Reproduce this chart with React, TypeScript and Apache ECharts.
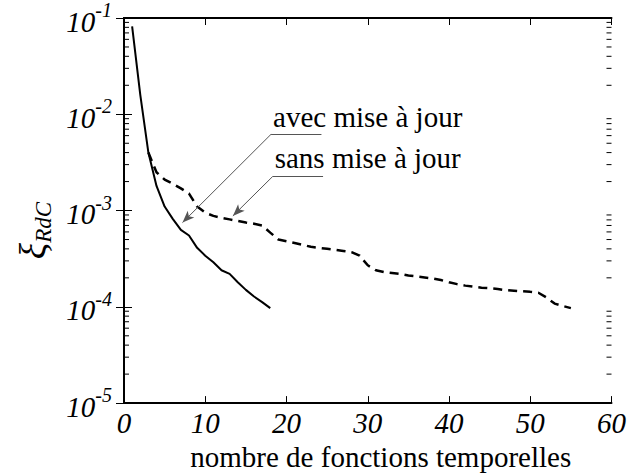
import React, { useEffect, useRef } from "react";
import * as echarts from "echarts";

// x positions (number of time functions)
const xAvec = [1, 2, 3, 4, 5, 6, 7, 8, 9, 10, 11, 12, 13, 14, 15, 16, 17, 18];
const yAvec = [
  0.082, 0.016, 0.004, 0.0018, 0.0011, 0.00082, 0.00063, 0.00055, 0.00041,
  0.00034, 0.00029, 0.00024, 0.00022, 0.00018, 0.00015, 0.000128, 0.000112,
  0.000097,
];

const xSans = [
  3, 4, 5, 6, 7, 8, 9, 10, 11, 12, 13, 14, 15, 16, 17, 18, 19, 20, 21, 22, 23,
  24, 25, 26, 27, 28, 29, 30, 31, 32, 33, 34, 35, 36, 37, 38, 39, 40, 41, 42,
  43, 44, 45, 46, 47, 48, 49, 50, 51, 52, 53, 54, 55,
];
const ySans = [
  0.004, 0.0025, 0.0021, 0.0019, 0.0017, 0.0015, 0.0011, 0.00095, 0.00088,
  0.00084, 0.00081, 0.00078, 0.00075, 0.00073, 0.0007, 0.00059, 0.0005,
  0.00048, 0.00046, 0.00044, 0.00042, 0.00041, 0.0004, 0.00039, 0.00038,
  0.00037, 0.00034, 0.00027, 0.00024, 0.00023, 0.000225, 0.00022, 0.000212,
  0.000207, 0.000202, 0.000197, 0.00019, 0.00018, 0.000172, 0.000166,
  0.000162, 0.000158, 0.000156, 0.000153, 0.000149, 0.000147, 0.000145,
  0.000143, 0.00014, 0.000125, 0.000108, 0.000102, 0.000097,
];

const decades = [-5, -4, -3, -2];
const minorMultipliers = [2, 3, 4, 5, 6, 7, 8, 9];

const labelAvec = "avec mise à jour";
const labelSans = "sans mise à jour";
const xName = "nombre de fonctions temporelles";

// annotation anchors (data space): start of the leader line and arrow tip
const avecStart = [18.1, 6.2e-3];
const avecEnd = [24.3, 6.2e-3];
const avecTip = [7.2, 7.5e-4];
const sansStart = [18.3, 2.26e-3];
const sansEnd = [24.5, 2.26e-3];
const sansTip = [13.4, 8.8e-4];

const FONT = "Liberation Serif";

export default function App() {
  const ref = useRef<HTMLDivElement>(null);
  useEffect(() => {
    if (!ref.current) return;
    const chart = echarts.init(ref.current, null, { renderer: "svg" });
    const minorVals: number[][] = [];
    decades.forEach((d) =>
      minorMultipliers.forEach((m) => minorVals.push([0, m * Math.pow(10, d)]))
    );
    const axisLine = { show: true, lineStyle: { color: "#000", width: 2 } };
    const tickStyle = { color: "#000", width: 1 };
    const annLabel = (text: string, dy: number) => ({
      show: true,
      formatter: text,
      position: "right",
      offset: [2, dy],
      distance: 0,
      fontFamily: FONT,
      fontSize: 29,
      color: "#000",
      align: "left",
    });
    const option: any = {
      animation: false,
      grid: { left: 124, right: 9, top: 15, bottom: 72, containLabel: false },
      xAxis: [
        {
          type: "value",
          min: 0,
          max: 60,
          interval: 10,
          position: "bottom",
          axisLine,
          axisTick: { show: true, inside: true, length: 7, lineStyle: tickStyle },
          axisLabel: {
            fontFamily: FONT,
            fontStyle: "italic",
            fontSize: 29,
            color: "#000",
            margin: 5,
          },
          splitLine: { show: false },
          name: xName,
          nameLocation: "middle",
          nameGap: 35,
          nameTextStyle: {
            fontFamily: FONT,
            fontSize: 29,
            color: "#000",
            padding: [0, 0, 0, 26],
          },
        },
        {
          type: "value",
          min: 0,
          max: 60,
          interval: 10,
          position: "top",
          axisLine,
          axisTick: { show: true, inside: true, length: 7, lineStyle: tickStyle },
          axisLabel: { show: false },
          splitLine: { show: false },
        },
      ],
      yAxis: [
        {
          type: "log",
          logBase: 10,
          min: 1e-5,
          max: 1e-1,
          position: "left",
          axisLine,
          axisTick: { show: true, inside: true, length: 8, lineStyle: tickStyle },
          axisLabel: {
            margin: 12,
            fontFamily: FONT,
            formatter: (v: number) => `{b|10}{s|${Math.round(Math.log10(v))}}`,
            rich: {
              b: {
                fontFamily: FONT,
                fontStyle: "italic",
                fontSize: 29,
                color: "#000",
                lineHeight: 36,
                verticalAlign: "bottom",
              },
              s: {
                fontFamily: FONT,
                fontStyle: "italic",
                fontSize: 20,
                color: "#000",
                lineHeight: 36,
                verticalAlign: "top",
              },
            },
          },
          splitLine: { show: false },
          name: "{x|ξ}{r|RdC}",
          nameLocation: "middle",
          nameRotate: 90,
          nameGap: 68,
          nameTextStyle: {
            fontFamily: FONT,
            padding: [0, 40, 0, 0],
            rich: {
              x: {
                fontFamily: FONT,
                fontStyle: "italic",
                fontSize: 38,
                color: "#000",
                lineHeight: 44,
                verticalAlign: "middle",
              },
              r: {
                fontFamily: FONT,
                fontStyle: "italic",
                fontSize: 23,
                color: "#000",
                lineHeight: 44,
                verticalAlign: "bottom",
              },
            },
          },
        },
        {
          type: "log",
          logBase: 10,
          min: 1e-5,
          max: 1e-1,
          position: "right",
          axisLine,
          axisTick: { show: true, inside: true, length: 8, lineStyle: tickStyle },
          axisLabel: { show: false },
          splitLine: { show: false },
        },
      ],
      series: [
        {
          type: "custom",
          xAxisIndex: 0,
          yAxisIndex: 0,
          silent: true,
          clip: false,
          data: minorVals,
          renderItem: (params: any, api: any) => {
            const v = api.value(1);
            const l = api.coord([0, v]);
            const r = api.coord([60, v]);
            const st = { stroke: "#000", lineWidth: 1 };
            return {
              type: "group",
              children: [
                { type: "line", shape: { x1: l[0], y1: l[1], x2: l[0] + 5, y2: l[1] }, style: st },
                { type: "line", shape: { x1: r[0] - 5, y1: r[1], x2: r[0], y2: r[1] }, style: st },
              ],
            };
          },
        },
        {
          type: "line",
          name: labelSans,
          data: xSans.map((x, i) => [x, ySans[i]]),
          showSymbol: false,
          symbol: "none",
          lineStyle: { color: "#000", width: 2.5, type: [9, 6] },
          markLine: {
            silent: true,
            animation: false,
            lineStyle: { color: "#555", width: 1, type: "solid" },
            label: { show: false },
            data: [
              [
                { coord: sansStart, symbol: "none" },
                { coord: sansEnd, symbol: "none" },
              ],
              [
                { coord: sansStart, symbol: "none" },
                { coord: sansTip, symbol: "arrow", symbolSize: [7, 12] },
              ],
              [
                { coord: avecStart, symbol: "none" },
                { coord: avecEnd, symbol: "none" },
              ],
              [
                { coord: avecStart, symbol: "none" },
                { coord: avecTip, symbol: "arrow", symbolSize: [7, 12] },
              ],
            ],
          },
        },
        {
          type: "line",
          name: labelAvec,
          data: xAvec.map((x, i) => [x, yAvec[i]]),
          showSymbol: false,
          symbol: "none",
          lineStyle: { color: "#000", width: 2 },
          markPoint: {
            silent: true,
            symbol: "circle",
            symbolSize: 0,
            data: [
              { coord: avecStart, label: annLabel(labelAvec, -17) },
              { coord: sansStart, label: annLabel(labelSans, -18) },
            ],
          },
        },
      ],
    };
    chart.setOption(option);
    return () => chart.dispose();
  }, []);
  return (
    <div
      ref={ref}
      style={{ position: "absolute", left: 0, top: 0, width: 629, height: 476, background: "#fff" }}
    />
  );
}
